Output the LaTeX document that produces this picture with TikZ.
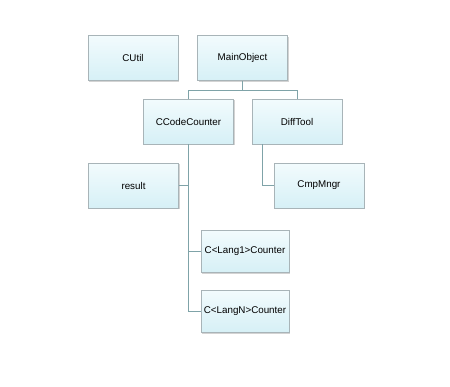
\documentclass[tikz,border=0pt]{standalone}
\usepackage{fontspec}
\setmainfont{Liberation Sans}
\usetikzlibrary{shadows}
\definecolor{boxline}{HTML}{A8B4B8}
\definecolor{boxtop}{HTML}{F2FBFD}
\definecolor{boxbot}{HTML}{D6F0F6}
\definecolor{conn}{HTML}{7FA3A8}
\tikzset{
  box/.style={draw=boxline, line width=0.6pt, top color=boxtop, bottom color=boxbot,
    minimum width=90pt, minimum height=45pt, inner sep=1pt, font=\fontsize{9.8}{11}\selectfont,
    drop shadow={opacity=0.35, shadow xshift=1.2pt, shadow yshift=-1.2pt}},
  smallbox/.style={box, minimum width=88pt, minimum height=42pt},
  conn/.style={draw=conn, line width=0.8pt}
}
\begin{document}
\begin{tikzpicture}[x=1pt,y=-1pt]
\useasboundingbox (0,0) rectangle (450,386);
\node[box] (cutil) at (133,58) {CUtil};
\node[box] (main) at (242.5,58) {MainObject};
\node[box] (ccc) at (188.5,121.5) {CCodeCounter};
\node[box] (diff) at (297,121.5) {DiffTool};
\node[box] (result) at (133.5,185.5) {result};
\node[box] (cmp) at (319,185.5) {CmpMngr};
\node[smallbox] (lang1) at (245,251.5) {C<Lang1>Counter};
\node[smallbox] (langn) at (245,311.5) {C<LangN>Counter};
\coordinate (mj) at (242.5,90);
\draw[conn] (main.south) -- (mj);
\draw[conn] (ccc.north) |- (mj);
\draw[conn] (diff.north) |- (mj);
\draw[conn] (ccc.south) |- (result.east);
\draw[conn] (ccc.south) |- (lang1.west);
\draw[conn] (ccc.south) |- (langn.west);
\draw[conn] ([xshift=-35pt]diff.south) |- (cmp.west);
\end{tikzpicture}
\end{document}
